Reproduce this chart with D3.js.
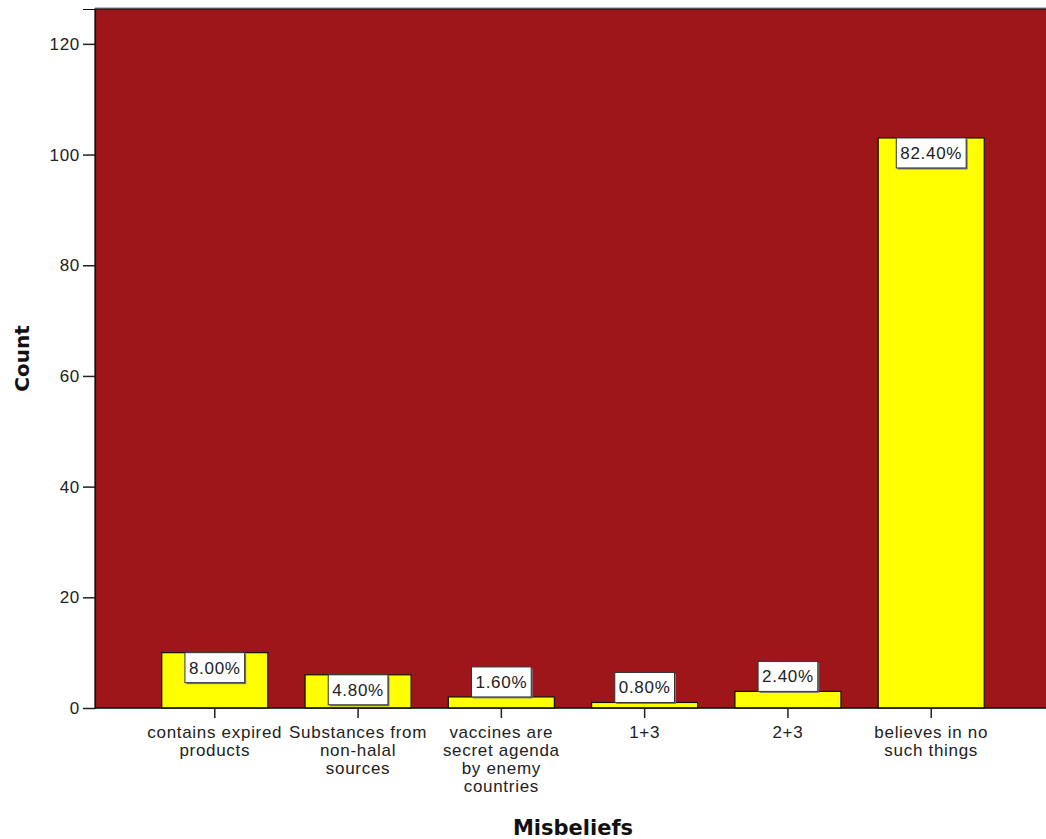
<!DOCTYPE html>
<html>
<head>
<meta charset="utf-8">
<script src="https://cdn.jsdelivr.net/npm/d3@7"></script>
<style>
  body { margin: 0; background: #fff; }
  svg text { font-family: "Liberation Sans", Arial, sans-serif; }
  svg text.title { font-family: "DejaVu Sans", Verdana, sans-serif; font-weight: bold; }
</style>
</head>
<body>
<script>
var width = 1046;
var height = 839;

// data
var categories = ['contains expired\nproducts', 'Substances from\nnon-halal\nsources',
  'vaccines are\nsecret agenda\nby enemy\ncountries', '1+3', '2+3', 'believes in no\nsuch things'];
var counts = [10, 6, 2, 1, 3, 103];
var percentLabels = ['8.00%', '4.80%', '1.60%', '0.80%', '2.40%', '82.40%'];
var yTicks = [0, 20, 40, 60, 80, 100, 120];

var plot = { left: 95, right: 1051, top: 9, bottom: 708 };

var svg = d3.select('body')
    .append('svg')
    .attr('width', width)
    .attr('height', height);

var x = d3.scaleBand()
    .domain(categories)
    .range([plot.left, plot.right])
    .paddingInner(0.26)
    .paddingOuter(0.466);

var y = d3.scaleLinear()
    .domain([0, 126.3])
    .range([plot.bottom, plot.top]);

// background
svg.append('rect')
    .attr('x', plot.left)
    .attr('y', plot.top - 2)
    .attr('width', plot.right - plot.left)
    .attr('height', 2)
    .attr('fill', '#bbb');
svg.append('rect')
    .attr('x', plot.left)
    .attr('y', plot.top)
    .attr('width', plot.right - plot.left)
    .attr('height', plot.bottom - plot.top)
    .attr('fill', '#9f161a')
    .attr('stroke', '#111')
    .attr('stroke-width', 1.2);

// bars
svg.selectAll('rect.bar')
    .data(counts)
    .enter()
    .append('rect')
    .attr('class', 'bar')
    .attr('x', function(d, i) { return x(categories[i]); })
    .attr('y', function(d) { return y(d); })
    .attr('width', x.bandwidth())
    .attr('height', function(d) { return y(0) - y(d); })
    .attr('fill', '#ffff00')
    .attr('stroke', '#111')
    .attr('stroke-width', 1.2);

// y axis
var yAxis = svg.append('g')
    .attr('transform', 'translate(' + plot.left + ',0)')
    .call(d3.axisLeft(y).tickValues(yTicks).tickSize(12).tickPadding(3));
yAxis.select('.domain').attr('stroke', '#111').attr('stroke-width', 1.2);
yAxis.selectAll('.tick line').attr('stroke', '#222').attr('stroke-width', 1.5);
yAxis.selectAll('.tick text')
    .attr('font-size', 17)
    .attr('letter-spacing', 0.7)
    .attr('fill', '#222');

// x axis
var xAxis = svg.append('g')
    .attr('transform', 'translate(0,' + plot.bottom + ')')
    .call(d3.axisBottom(x).tickSize(10).tickFormat(''));
xAxis.select('.domain').attr('stroke', '#111').attr('stroke-width', 1.2)
    .attr('d', 'M' + plot.left + ',0H' + plot.right);
xAxis.selectAll('.tick line').attr('stroke', '#222').attr('stroke-width', 1.5);

// wrapped category labels
categories.forEach(function(c) {
    var lines = c.split('\n');
    var t = svg.append('text')
        .attr('x', x(c) + x.bandwidth() / 2)
        .attr('y', 738)
        .attr('text-anchor', 'middle')
        .attr('font-size', 17)
        .attr('letter-spacing', 0.7)
        .attr('fill', '#222');
    lines.forEach(function(l, j) {
        t.append('tspan')
            .attr('x', x(c) + x.bandwidth() / 2)
            .attr('dy', j === 0 ? 0 : 18)
            .text(l);
    });
});

// percentage label boxes
var boxH = 30;
counts.forEach(function(d, i) {
    var cx = x(categories[i]) + x.bandwidth() / 2;
    var barH = y(0) - y(d);
    var top = barH >= boxH ? y(d) : y(d) - boxH;
    var g = svg.append('g');
    var txt = g.append('text')
        .attr('x', cx)
        .attr('y', top + boxH / 2 + 6)
        .attr('text-anchor', 'middle')
        .attr('font-size', 17)
        .attr('letter-spacing', 0.7)
        .attr('fill', '#222')
        .text(percentLabels[i]);
    var w = txt.node().getComputedTextLength() + 8;
    g.insert('rect', 'text')
        .attr('x', cx - w / 2 + 1.5)
        .attr('y', top + 1.5)
        .attr('width', w)
        .attr('height', boxH)
        .attr('fill', '#777');
    g.insert('rect', 'text')
        .attr('x', cx - w / 2)
        .attr('y', top)
        .attr('width', w)
        .attr('height', boxH)
        .attr('fill', '#fff')
        .attr('stroke', '#333')
        .attr('stroke-width', 1);
});

// axis titles
svg.append('text')
    .attr('class', 'title')
    .attr('transform', 'translate(29,' + ((plot.top + plot.bottom) / 2) + ') rotate(-90)')
    .attr('text-anchor', 'middle')
    .attr('font-size', 20)
    .attr('fill', '#111')
    .text('Count');

svg.append('text')
    .attr('class', 'title')
    .attr('x', (plot.left + plot.right) / 2)
    .attr('y', 835)
    .attr('text-anchor', 'middle')
    .attr('font-size', 21)
    .attr('fill', '#111')
    .text('Misbeliefs');
</script>
</body>
</html>
